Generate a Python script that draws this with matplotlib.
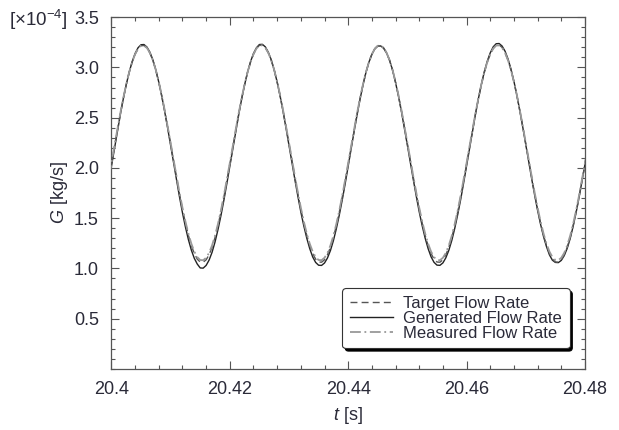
import numpy as np
import matplotlib.pyplot as plt
from matplotlib.ticker import MultipleLocator

plt.rcParams['font.family'] = ['Liberation Sans', 'DejaVu Sans']
plt.rcParams['mathtext.fontset'] = 'custom'
plt.rcParams['mathtext.it'] = 'Liberation Sans:italic'
plt.rcParams['mathtext.rm'] = 'Liberation Sans'

# time samples [s], every 0.5 ms
t = np.round(np.arange(165) * 0.0005 + 20.399, 4)

# flow rates [x1e-4 kg/s]
generated = [
    1.679, 1.844, 2.016, 2.190, 2.362, 2.528, 2.685, 2.827, 2.953, 3.057, 3.139, 3.196, 3.226, 3.228, 3.203, 3.152, 3.076, 2.976, 2.854, 2.715,
    2.561, 2.396, 2.224, 2.050, 1.878, 1.712, 1.555, 1.413, 1.288, 1.183, 1.101, 1.044, 1.005, 1.003, 1.030, 1.083, 1.160, 1.262, 1.386, 1.525,
    1.679, 1.844, 2.016, 2.190, 2.362, 2.528, 2.685, 2.827, 2.953, 3.057, 3.139, 3.196, 3.228, 3.230, 3.205, 3.152, 3.076, 2.976, 2.854, 2.715,
    2.561, 2.396, 2.224, 2.052, 1.882, 1.718, 1.562, 1.424, 1.302, 1.198, 1.115, 1.060, 1.032, 1.030, 1.054, 1.104, 1.178, 1.276, 1.396, 1.532,
    1.683, 1.846, 2.018, 2.190, 2.362, 2.526, 2.683, 2.824, 2.950, 3.052, 3.130, 3.185, 3.212, 3.214, 3.190, 3.142, 3.070, 2.972, 2.850, 2.712,
    2.560, 2.396, 2.226, 2.054, 1.884, 1.720, 1.564, 1.425, 1.302, 1.198, 1.116, 1.061, 1.033, 1.031, 1.055, 1.106, 1.180, 1.278, 1.398, 1.535,
    1.685, 1.850, 2.022, 2.196, 2.366, 2.532, 2.690, 2.832, 2.958, 3.063, 3.145, 3.205, 3.236, 3.238, 3.213, 3.162, 3.085, 2.984, 2.862, 2.722,
    2.568, 2.404, 2.232, 2.062, 1.892, 1.730, 1.578, 1.440, 1.318, 1.217, 1.135, 1.082, 1.060, 1.058, 1.080, 1.128, 1.200, 1.296, 1.418, 1.555,
    1.705, 1.868, 2.035, 2.205, 2.372]
target = [
    1.711, 1.871, 2.038, 2.208, 2.375, 2.537, 2.690, 2.828, 2.950, 3.052, 3.131, 3.187, 3.216, 3.218, 3.194, 3.144, 3.070, 2.973, 2.854, 2.719,
    2.569, 2.409, 2.242, 2.072, 1.905, 1.743, 1.590, 1.452, 1.330, 1.228, 1.149, 1.093, 1.064, 1.062, 1.086, 1.136, 1.210, 1.307, 1.426, 1.561,
    1.711, 1.871, 2.038, 2.208, 2.375, 2.537, 2.690, 2.828, 2.950, 3.052, 3.131, 3.189, 3.220, 3.222, 3.198, 3.146, 3.072, 2.974, 2.856, 2.720,
    2.569, 2.409, 2.242, 2.072, 1.905, 1.743, 1.590, 1.452, 1.330, 1.228, 1.149, 1.093, 1.064, 1.062, 1.086, 1.136, 1.210, 1.307, 1.426, 1.561,
    1.711, 1.871, 2.038, 2.208, 2.375, 2.537, 2.690, 2.828, 2.950, 3.052, 3.131, 3.187, 3.216, 3.218, 3.194, 3.144, 3.070, 2.973, 2.854, 2.719,
    2.569, 2.409, 2.242, 2.072, 1.905, 1.743, 1.590, 1.452, 1.330, 1.228, 1.149, 1.093, 1.064, 1.062, 1.086, 1.136, 1.210, 1.307, 1.426, 1.561,
    1.711, 1.871, 2.038, 2.208, 2.375, 2.537, 2.690, 2.828, 2.950, 3.052, 3.131, 3.190, 3.222, 3.224, 3.200, 3.146, 3.072, 2.974, 2.856, 2.720,
    2.569, 2.409, 2.242, 2.072, 1.905, 1.743, 1.590, 1.452, 1.330, 1.228, 1.149, 1.093, 1.064, 1.062, 1.086, 1.136, 1.210, 1.307, 1.426, 1.561,
    1.711, 1.871, 2.038, 2.208, 2.375]
measured = [
    1.725, 1.884, 2.049, 2.217, 2.383, 2.544, 2.695, 2.832, 2.953, 3.053, 3.132, 3.187, 3.216, 3.218, 3.194, 3.145, 3.071, 2.975, 2.857, 2.724,
    2.575, 2.416, 2.251, 2.083, 1.917, 1.756, 1.605, 1.468, 1.348, 1.247, 1.168, 1.113, 1.084, 1.082, 1.106, 1.155, 1.229, 1.325, 1.443, 1.576,
    1.725, 1.884, 2.049, 2.217, 2.383, 2.544, 2.695, 2.832, 2.953, 3.053, 3.132, 3.188, 3.218, 3.220, 3.196, 3.146, 3.071, 2.975, 2.857, 2.724,
    2.575, 2.416, 2.251, 2.083, 1.917, 1.756, 1.605, 1.468, 1.348, 1.247, 1.168, 1.113, 1.084, 1.082, 1.106, 1.155, 1.229, 1.325, 1.443, 1.576,
    1.725, 1.884, 2.049, 2.217, 2.383, 2.544, 2.695, 2.832, 2.953, 3.053, 3.132, 3.187, 3.216, 3.218, 3.194, 3.145, 3.071, 2.975, 2.857, 2.724,
    2.575, 2.416, 2.251, 2.083, 1.917, 1.756, 1.605, 1.468, 1.348, 1.247, 1.168, 1.113, 1.084, 1.082, 1.106, 1.155, 1.229, 1.325, 1.443, 1.576,
    1.725, 1.884, 2.049, 2.217, 2.383, 2.544, 2.695, 2.832, 2.953, 3.053, 3.132, 3.188, 3.218, 3.220, 3.196, 3.146, 3.071, 2.975, 2.857, 2.724,
    2.575, 2.416, 2.251, 2.083, 1.917, 1.756, 1.605, 1.468, 1.348, 1.247, 1.168, 1.113, 1.084, 1.082, 1.106, 1.155, 1.229, 1.325, 1.443, 1.576,
    1.725, 1.884, 2.049, 2.217, 2.383]

txt = '#2a2a38'

fig = plt.figure(figsize=(6.19, 4.30), dpi=100)
ax = fig.add_axes([0.180, 0.142, 0.765, 0.818])

ax.plot(t, target, color='#555555', lw=1.0, ls=(0, (5, 3)), label='Target Flow Rate', zorder=3)
ax.plot(t, generated, color='#222222', lw=1.0, ls='-', label='Generated Flow Rate', zorder=2)
ax.plot(t, measured, color='#999999', lw=1.3, ls=(0, (6, 2, 1, 2)), label='Measured Flow Rate', zorder=4)

ax.set_xlim(20.4, 20.48)
ax.set_ylim(0.0, 3.5)
ax.xaxis.set_minor_locator(MultipleLocator(0.004))
ax.yaxis.set_minor_locator(MultipleLocator(0.1))
ax.set_xticks([20.4, 20.42, 20.44, 20.46, 20.48])
ax.set_xticklabels(['20.4', '20.42', '20.44', '20.46', '20.48'])
ax.set_yticks([0.5, 1.0, 1.5, 2.0, 2.5, 3.0, 3.5])
ax.set_yticklabels(['0.5', '1.0', '1.5', '2.0', '2.5', '3.0', '3.5'])

ax.tick_params(which='both', direction='in', top=True, right=True, colors='#555555',
               labelcolor=txt, labelsize=13, width=0.8)
ax.tick_params(which='major', length=6, pad=9)
ax.tick_params(which='minor', length=3)
for s in ax.spines.values():
    s.set_color('#555555')
    s.set_linewidth(0.9)

ax.set_xlabel('$t$ [s]', fontsize=13, color=txt, labelpad=5)
ax.set_ylabel('$G$ [kg/s]', fontsize=13, color=txt, labelpad=3)
fig.text(0.014, 0.953, '[\u00d710$^{-4}$]', fontsize=13.5, color=txt, va='center')

leg = ax.legend(loc='lower right', bbox_to_anchor=(0.985, 0.035), fontsize=12, frameon=True,
                fancybox=True, shadow={'color': 'black', 'alpha': 1.0}, handlelength=2.6,
                labelspacing=0.0, borderpad=0.45, handletextpad=0.6)
leg.get_frame().set_edgecolor('#333333')
leg.get_frame().set_linewidth(0.8)
for tx in leg.get_texts():
    tx.set_color(txt)

fig.savefig('out.png', dpi=100)
